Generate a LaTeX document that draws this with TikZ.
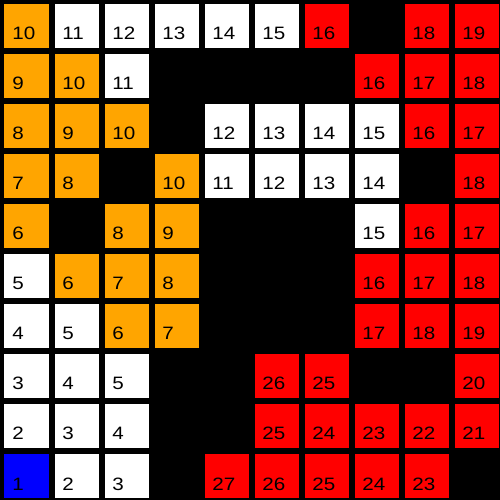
\documentclass[tikz,border=0pt]{standalone}
\usepackage{fontspec}
\setmainfont{Liberation Sans}[FakeStretch=1.15]
\definecolor{gridorange}{RGB}{255,165,0}
\begin{document}
\begin{tikzpicture}[font=\fontsize{10.2}{12}\selectfont, line join=round,
	cell/.style={minimum size=0.88cm, inner sep=0pt, outer sep=0pt},
	num/.style={anchor=base west, inner sep=0pt}]
	\def\xmax{10} \def\ymax{10}
	\fill[black] (0,0) rectangle (\xmax,\ymax);
	\useasboundingbox (0,0) rectangle (\xmax,\ymax);
	% row/column/colour/number, rows counted from the top
	\foreach \r/\c/\col/\n in {
		0/0/gridorange/10, 0/1/white/11, 0/2/white/12, 0/3/white/13, 0/4/white/14, 0/5/white/15, 0/6/red/16, 0/8/red/18, 0/9/red/19,
		1/0/gridorange/9, 1/1/gridorange/10, 1/2/white/11, 1/7/red/16, 1/8/red/17, 1/9/red/18,
		2/0/gridorange/8, 2/1/gridorange/9, 2/2/gridorange/10, 2/4/white/12, 2/5/white/13, 2/6/white/14, 2/7/white/15, 2/8/red/16, 2/9/red/17,
		3/0/gridorange/7, 3/1/gridorange/8, 3/3/gridorange/10, 3/4/white/11, 3/5/white/12, 3/6/white/13, 3/7/white/14, 3/9/red/18,
		4/0/gridorange/6, 4/2/gridorange/8, 4/3/gridorange/9, 4/7/white/15, 4/8/red/16, 4/9/red/17,
		5/0/white/5, 5/1/gridorange/6, 5/2/gridorange/7, 5/3/gridorange/8, 5/7/red/16, 5/8/red/17, 5/9/red/18,
		6/0/white/4, 6/1/white/5, 6/2/gridorange/6, 6/3/gridorange/7, 6/7/red/17, 6/8/red/18, 6/9/red/19,
		7/0/white/3, 7/1/white/4, 7/2/white/5, 7/5/red/26, 7/6/red/25, 7/9/red/20,
		8/0/white/2, 8/1/white/3, 8/2/white/4, 8/5/red/25, 8/6/red/24, 8/7/red/23, 8/8/red/22, 8/9/red/21,
		9/0/blue/1, 9/1/white/2, 9/2/white/3, 9/4/red/27, 9/5/red/26, 9/6/red/25, 9/7/red/24, 9/8/red/23}
	{
		\node[cell, fill=\col] (c-\r-\c) at (\c+0.53, 9-\r+0.48) {};
		\node[num] (n-\r-\c) at ([shift={(0.15,0.16)}]c-\r-\c.south west) {\n};
	}
\end{tikzpicture}
\end{document}
